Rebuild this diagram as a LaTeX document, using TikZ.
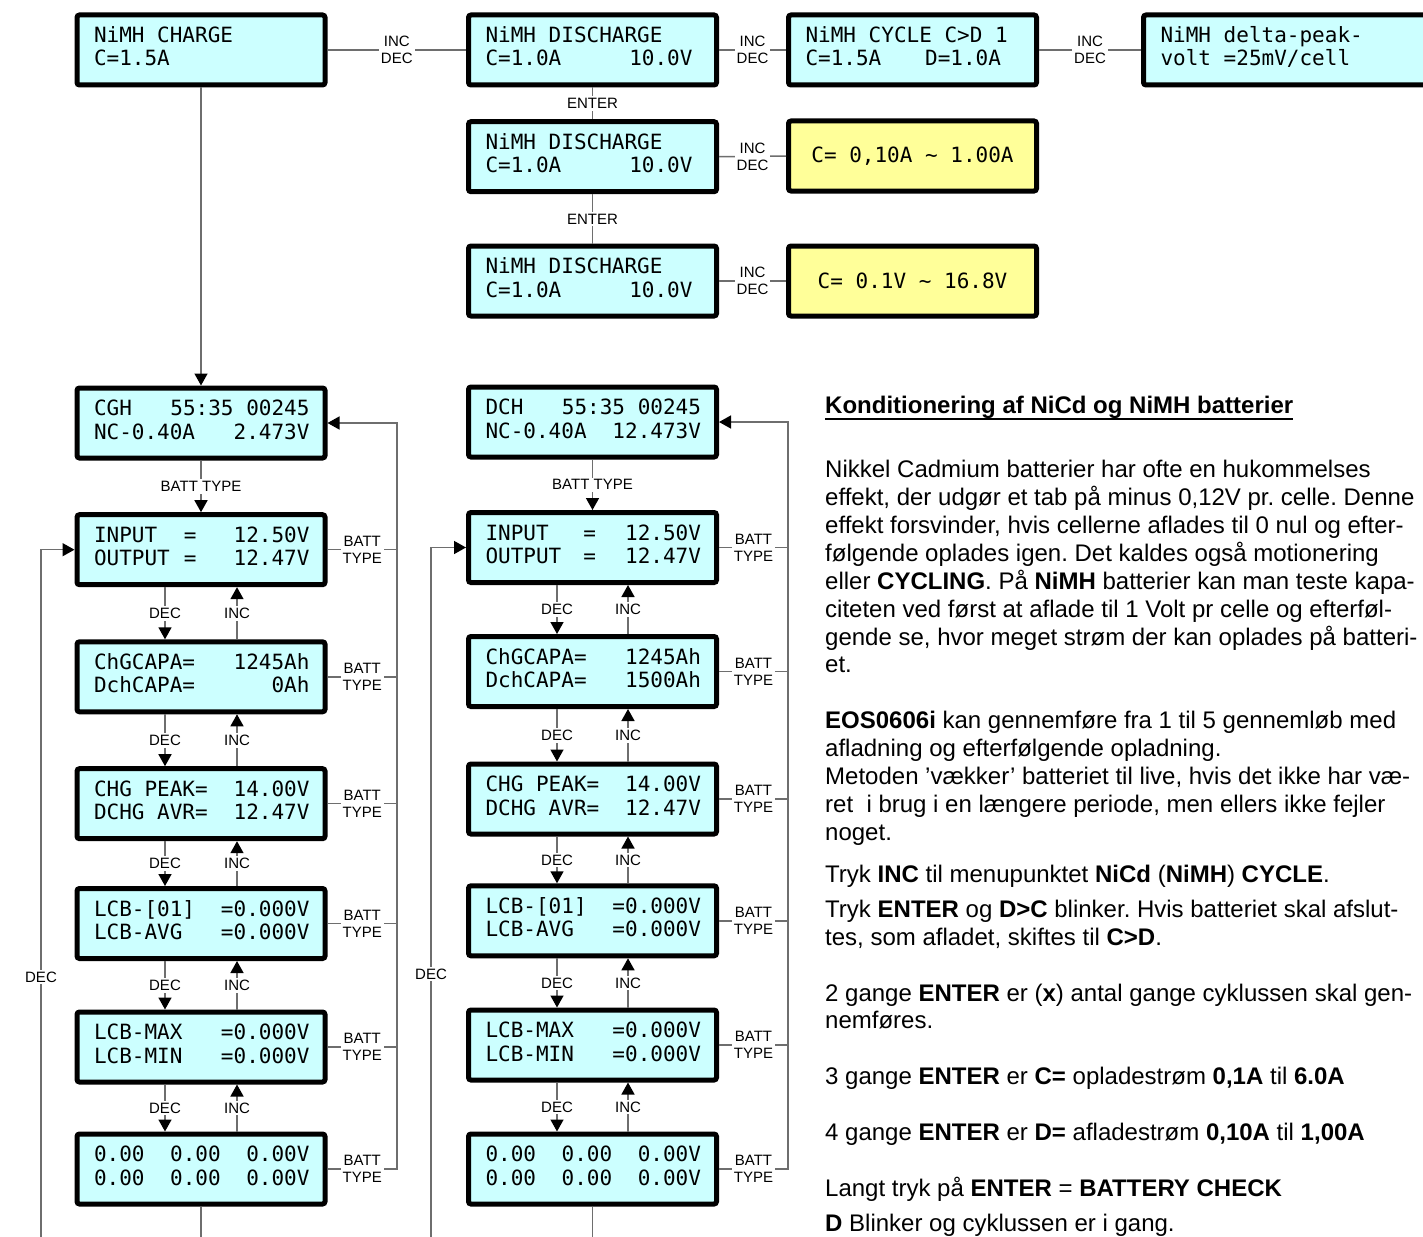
\documentclass[tikz,border=0pt]{standalone}
\usepackage{fontspec}
\setmainfont{Liberation Sans}
\newfontfamily\lcdfont{DejaVu Sans Mono}
\usetikzlibrary{arrows.meta}
\frenchspacing
\definecolor{lcdcyan}{RGB}{204,255,255}
\definecolor{lcdyellow}{RGB}{255,255,153}
\definecolor{conngray}{RGB}{110,110,110}
\tikzset{
  lcdframe/.style={draw=black, line width=5pt, rounded corners=2.5pt, minimum width=248pt, minimum height=70pt, inner sep=0pt, outer sep=2.5pt},
  cyanlcd/.style={lcdframe, fill=lcdcyan},
  yellowlcd/.style={lcdframe, fill=lcdyellow, font=\lcdfont\fontsize{21pt}{24pt}\selectfont},
  lcdrow/.style={anchor=base west, inner sep=0pt, outer sep=0pt, font=\lcdfont\fontsize{21pt}{24pt}\selectfont, text=black},
  conn/.style={draw=conngray, line width=1.5pt},
  arr/.style={conn, -{Triangle[width=13pt,length=12pt,color=black]}},
  lbl/.style={fill=white, inner sep=2pt, font=\fontsize{15pt}{17pt}\selectfont, align=center, text=black},
  body/.style={anchor=base west, inner sep=0pt, font=\fontsize{24pt}{28pt}\selectfont},
}
\newcommand\lcdpanel[6]{%
  \node[#2] (#1) at (#3,#4) {};
  \node[lcdrow] (#1-r1) at ([xshift=19.5pt,yshift=7.5pt]#1.west) {\makebox[215.5pt][l]{#5}};
  \node[lcdrow] (#1-r2) at ([xshift=19.5pt,yshift=-16pt]#1.west) {\makebox[215.5pt][l]{#6}};
}
\begin{document}
\begin{tikzpicture}[x=1pt,y=-1pt]
\useasboundingbox[fill=white] (0,0) rectangle (1423,1236);

% ---------- top row ----------
\lcdpanel{A}{cyanlcd}{201}{50}{NiMH CHARGE}{C=1.5A}
\lcdpanel{B}{cyanlcd}{592.5}{50}{NiMH DISCHARGE}{C=1.0A\hfill 10.0V\hspace*{8.5pt}}
\lcdpanel{C}{cyanlcd}{912.5}{50}{NiMH CYCLE C>D 1}{C=1.5A\hfill D=1.0A\hspace*{20pt}}
\lcdpanel{D}{cyanlcd,minimum width=295pt}{1291}{50}{NiMH delta-peak-}{volt =25mV/cell}
\lcdpanel{B2}{cyanlcd}{592.5}{156.7}{NiMH DISCHARGE}{C=1.0A\hfill 10.0V\hspace*{8.5pt}}
\lcdpanel{B3}{cyanlcd}{592.5}{281}{NiMH DISCHARGE}{C=1.0A\hfill 10.0V\hspace*{8.5pt}}
\node[yellowlcd] (E) at (912.5,156) {C= 0,10A \textasciitilde\ 1.00A};
\node[yellowlcd] (F) at (912.5,281) {C= 0.1V \textasciitilde\ 16.8V};

\draw[conn] (A.east) -- node[lbl] {INC\\DEC} (B.west);
\draw[conn] (B.east) -- node[lbl] {INC\\DEC} (C.west);
\draw[conn] (C.east) -- node[lbl] {INC\\DEC} (D.west);
\draw[conn] (B.south) -- node[lbl] {ENTER} (B2.north);
\draw[conn] (B2.south) -- node[lbl] {ENTER} (B3.north);
\draw[conn] (B2.east) -- node[lbl] {INC\\DEC} (E.west);
\draw[conn] (B3.east) -- node[lbl] {INC\\DEC} (F.west);

% ---------- left column ----------
\lcdpanel{L1}{cyanlcd}{201}{423}{CGH\hfill 55:35 00245}{NC-0.40A\hfill 2.473V}
\lcdpanel{L2}{cyanlcd}{201}{549.7}{\makebox[90pt][l]{INPUT}=\hfill 12.50V}{\makebox[90pt][l]{OUTPUT}=\hfill 12.47V}
\lcdpanel{L3}{cyanlcd}{201}{676.8}{ChGCAPA=\hfill 1245Ah}{DchCAPA=\hfill 0Ah}
\lcdpanel{L4}{cyanlcd}{201}{803.7}{CHG PEAK=\hfill 14.00V}{DCHG AVR=\hfill 12.47V}
\lcdpanel{L5}{cyanlcd}{201}{923.5}{LCB-[01]\hfill =0.000V}{LCB-AVG\hfill =0.000V}
\lcdpanel{L6}{cyanlcd}{201}{1047}{LCB-MAX\hfill =0.000V}{LCB-MIN\hfill =0.000V}
\lcdpanel{L7}{cyanlcd}{201}{1169}{0.00\hfill 0.00\hfill 0.00V}{0.00\hfill 0.00\hfill 0.00V}

\coordinate (Lr) at (397,0);
\coordinate (Ld) at (165,0);
\coordinate (Li) at (237,0);
\coordinate (Lb) at (41,1240);
\coordinate (L7b) at (201,1240);

\draw[arr] (A.south) -- (L1.north);
\draw[arr] (L1.south) -- node[lbl] {BATT TYPE} (L2.north);
\foreach \u/\l in {L2/L3,L3/L4,L4/L5,L5/L6,L6/L7}{
  \draw[arr] (\u.south -| Ld) -- node[lbl] {DEC} (\l.north -| Ld);
  \draw[arr] (\l.north -| Li) -- node[lbl] {INC} (\u.south -| Li);
}
\foreach \b in {L2,L3,L4,L5,L6}{
  \draw[conn] (\b.east) -- node[lbl] {BATT\\TYPE} (\b.east -| Lr);
}
\draw[arr] (L7.east) -- node[lbl] {BATT\\TYPE} (L7.east -| Lr) |- (L1.east);
\draw[arr] (Lb) |- (L2.west);
\node[lbl] (Ldec) at (41,977) {DEC};
\draw[conn] (L7.south) -- (L7b);

% ---------- middle column ----------
\lcdpanel{M1}{cyanlcd}{592.5}{422}{DCH\hfill 55:35 00245}{NC-0.40A\hfill 12.473V}
\lcdpanel{M2}{cyanlcd}{592.5}{547.5}{\makebox[98pt][l]{INPUT}=\hfill 12.50V}{\makebox[98pt][l]{OUTPUT}=\hfill 12.47V}
\lcdpanel{M3}{cyanlcd}{592.5}{671.5}{ChGCAPA=\hfill 1245Ah}{DchCAPA=\hfill 1500Ah}
\lcdpanel{M4}{cyanlcd}{592.5}{799}{CHG PEAK=\hfill 14.00V}{DCHG AVR=\hfill 12.47V}
\lcdpanel{M5}{cyanlcd}{592.5}{920.8}{LCB-[01]\hfill =0.000V}{LCB-AVG\hfill =0.000V}
\lcdpanel{M6}{cyanlcd}{592.5}{1045}{LCB-MAX\hfill =0.000V}{LCB-MIN\hfill =0.000V}
\lcdpanel{M7}{cyanlcd}{592.5}{1169}{0.00\hfill 0.00\hfill 0.00V}{0.00\hfill 0.00\hfill 0.00V}

\coordinate (Mr) at (788,0);
\coordinate (Md) at (557,0);
\coordinate (Mi) at (628,0);
\coordinate (Mb) at (431,1240);
\coordinate (M7b) at (592.5,1240);

\draw[arr] (M1.south) -- node[lbl] {BATT TYPE} (M2.north);
\foreach \u/\l in {M2/M3,M3/M4,M4/M5,M5/M6,M6/M7}{
  \draw[arr] (\u.south -| Md) -- node[lbl] {DEC} (\l.north -| Md);
  \draw[arr] (\l.north -| Mi) -- node[lbl] {INC} (\u.south -| Mi);
}
\foreach \b in {M2,M3,M4,M5,M6}{
  \draw[conn] (\b.east) -- node[lbl] {BATT\\TYPE} (\b.east -| Mr);
}
\draw[arr] (M7.east) -- node[lbl] {BATT\\TYPE} (M7.east -| Mr) |- (M1.east);
\draw[arr] (Mb) |- (M2.west);
\node[lbl] (Mdec) at (431,974) {DEC};
\draw[conn] (M7.south) -- (M7b);

% ---------- text ----------
\node[body, font=\bfseries\fontsize{24pt}{28pt}\selectfont] (head) at (825,413) {Konditionering af NiCd og NiMH batterier};
\draw[line width=2pt] ([yshift=-5.5pt]head.base west) -- ([yshift=-5.5pt]head.base east);

\node[body] (t1) at (825,477) {Nikkel Cadmium batterier har ofte en hukommelses};
\node[body] (t2) at (825,505) {effekt, der udgør et tab på minus 0,12V pr. celle. Denne};
\node[body] (t3) at (825,533) {effekt forsvinder, hvis cellerne aflades til 0 nul og efter-};
\node[body] (t4) at (825,561) {følgende oplades igen. Det kaldes også motionering};
\node[body] (t5) at (825,589) {eller \textbf{CYCLING}. På \textbf{NiMH} batterier kan man teste kapa-};
\node[body] (t6) at (825,617) {citeten ved først at aflade til 1 Volt pr celle og efterføl-};
\node[body] (t7) at (825,645) {gende se, hvor meget strøm der kan oplades på batteri-};
\node[body] (t8) at (825,672) {et.};
\node[body] (t9) at (825,728) {\textbf{EOS0606i} kan gennemføre fra 1 til 5 gennemløb med};
\node[body] (t10) at (825,756) {afladning og efterfølgende opladning.};
\node[body] (t11) at (825,784) {Metoden ’vækker’ batteriet til live, hvis det ikke har væ-};
\node[body] (t12) at (825,812) {ret\ \ i brug i en længere periode, men ellers ikke fejler};
\node[body] (t13) at (825,840) {noget.};
\node[body] (t14) at (825,882) {Tryk \textbf{INC} til menupunktet \textbf{NiCd} (\textbf{NiMH}) \textbf{CYCLE}.};
\node[body] (t15) at (825,917) {Tryk \textbf{ENTER} og \textbf{D>C} blinker. Hvis batteriet skal afslut-};
\node[body] (t16) at (825,945) {tes, som afladet, skiftes til \textbf{C>D}.};
\node[body] (t17) at (825,1001) {2 gange \textbf{ENTER} er (\textbf{x}) antal gange cyklussen skal gen-};
\node[body] (t18) at (825,1028) {nemføres.};
\node[body] (t19) at (825,1084) {3 gange \textbf{ENTER} er \textbf{C=} opladestrøm \textbf{0,1A} til \textbf{6.0A}};
\node[body] (t20) at (825,1140) {4 gange \textbf{ENTER} er \textbf{D=} afladestrøm \textbf{0,10A} til \textbf{1,00A}};
\node[body] (t21) at (825,1196) {Langt tryk på \textbf{ENTER} = \textbf{BATTERY CHECK}};
\node[body] (t22) at (825,1231) {\textbf{D} Blinker og cyklussen er i gang.};
\end{tikzpicture}
\end{document}
